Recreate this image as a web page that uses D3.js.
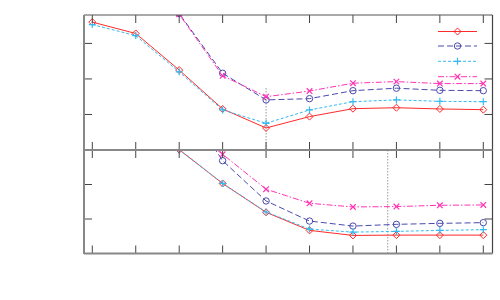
<!DOCTYPE html>
<html><head><meta charset="utf-8">
<script src="https://cdn.jsdelivr.net/npm/d3@7"></script>
<style>body{margin:0;background:#fff}svg{display:block}</style>
</head><body>
<script>
const xIndex = [0,1,2,3,4,5,6,7,8,9];
const seriesNames = ["s1","s2","s3","s4"];
// top panel values
const topRed     = [3.60,3.28,2.25,1.155,0.62,0.94,1.163,1.19,1.155,1.135];
const topBlue    = [5.0,4.6,3.84,2.16,1.41,1.445,1.67,1.74,1.68,1.67];
const topCyan    = [3.53,3.22,2.20,1.127,0.752,1.127,1.36,1.41,1.37,1.36];
const topMagenta = [5.1,4.7,3.82,2.09,1.50,1.66,1.88,1.925,1.87,1.87];
// bottom panel values
const botRed     = [4.4,3.9,3.01,2.03,1.194,0.67,0.524,0.533,0.533,0.533];
const botBlue    = [6.0,5.4,4.6,2.69,1.523,0.941,0.795,0.845,0.874,0.894];
const botCyan    = [4.4,3.9,3.01,2.03,1.203,0.708,0.62,0.641,0.67,0.69];
const botMagenta = [5.4,4.8,3.87,2.875,1.864,1.456,1.349,1.36,1.398,1.407];
const topTicks = [1,2,3];
const botTicks = [1,2];
const topMarkerX = 4;      // vertical guide in top panel
const botMarkerX = 6.8;    // vertical guide in bottom panel

const W=500,H=300;
const L=84,R=492.5,T1=15,B1=150,T2=150,B2=253.5;
const svg=d3.select("body").append("svg").attr("width",W).attr("height",H);
const x=d3.scaleLinear().domain([0,9]).range([92.3,483.3]);
const yTop=d3.scaleLinear().domain([0,3.8]).range([B1,T1]);
const yBot=d3.scaleLinear().domain([0,3]).range([B2,T2]);

const styles=[
 {c:"#ff2a2a",dash:null,m:"diamond"},
 {c:"#4a4aae",dash:"6,3",m:"circle"},
 {c:"#33bbf0",dash:"3,2",m:"plus"},
 {c:"#ff33b4",dash:"6,2,1.5,2",m:"cross"}
];
function marker(g,type,cx,cy,color){
  if(type==="diamond"){
    g.append("path").attr("d",`M${cx},${cy-3.5}L${cx+3.5},${cy}L${cx},${cy+3.5}L${cx-3.5},${cy}Z`).attr("fill","none").attr("stroke",color).attr("stroke-width",1);
  }else if(type==="circle"){
    g.append("circle").attr("cx",cx).attr("cy",cy).attr("r",3.2).attr("fill","none").attr("stroke",color).attr("stroke-width",1);
  }else if(type==="plus"){
    g.append("path").attr("d",`M${cx-3.5},${cy}H${cx+3.5}M${cx},${cy-3.5}V${cy+3.5}`).attr("stroke",color).attr("stroke-width",1.2);
  }else{
    g.append("path").attr("d",`M${cx-2.8},${cy-2.8}L${cx+2.8},${cy+2.8}M${cx-2.8},${cy+2.8}L${cx+2.8},${cy-2.8}`).attr("stroke",color).attr("stroke-width",1.2);
  }
}
const defs=svg.append("defs");
defs.append("clipPath").attr("id","c1").append("rect").attr("x",L).attr("y",T1).attr("width",R-L).attr("height",B1-T1);
defs.append("clipPath").attr("id","c2").append("rect").attr("x",L).attr("y",T2).attr("width",R-L).attr("height",B2-T2);

function panel(ys,data,clip,top,bot,ticks,guideX,guideTop){
  const g=svg.append("g");
  // guide
  g.append("line").attr("x1",x(guideX)).attr("x2",x(guideX)).attr("y1",guideTop).attr("y2",bot)
    .attr("stroke","#999").attr("stroke-width",1).attr("stroke-dasharray","1.5,1.5");
  const pg=g.append("g").attr("clip-path",`url(#${clip})`);
  data.forEach((vals,si)=>{
    const st=styles[si];
    const line=d3.line().x((d,i)=>x(xIndex[i])).y(d=>ys(d));
    pg.append("path").datum(vals).attr("d",line).attr("fill","none").attr("stroke",st.c)
      .attr("stroke-width",1).attr("stroke-dasharray",st.dash);
    vals.forEach((v,i)=>marker(pg,st.m,x(xIndex[i]),ys(v),st.c));
  });
  // ticks
  const tk=g.append("g").attr("stroke","#444").attr("stroke-width",1);
  xIndex.forEach(i=>{
    tk.append("line").attr("x1",x(i)).attr("x2",x(i)).attr("y1",top).attr("y2",top+8);
    tk.append("line").attr("x1",x(i)).attr("x2",x(i)).attr("y1",bot).attr("y2",bot-8);
  });
  ticks.forEach(t=>{
    tk.append("line").attr("x1",L).attr("x2",L+8).attr("y1",ys(t)).attr("y2",ys(t));
    tk.append("line").attr("x1",R).attr("x2",R-8).attr("y1",ys(t)).attr("y2",ys(t));
  });
  return g;
}
panel(yTop,[topRed,topBlue,topCyan,topMagenta],"c1",T1,B1,topTicks,topMarkerX,88);
panel(yBot,[botRed,botBlue,botCyan,botMagenta],"c2",T2,B2,botTicks,botMarkerX,T2);

// frame
const fr=svg.append("g").attr("fill","none");
fr.append("line").attr("x1",L).attr("x2",R).attr("y1",T1).attr("y2",T1).attr("stroke","#555").attr("stroke-width",1.2);
fr.append("line").attr("x1",R).attr("x2",R).attr("y1",T1).attr("y2",B2).attr("stroke","#444").attr("stroke-width",1.2);
fr.append("line").attr("x1",L).attr("x2",L).attr("y1",T1).attr("y2",B2+0.5).attr("stroke","#888").attr("stroke-width",2);
fr.append("line").attr("x1",L).attr("x2",R).attr("y1",B1).attr("y2",B1).attr("stroke","#888").attr("stroke-width",2);
fr.append("line").attr("x1",L).attr("x2",R).attr("y1",B2).attr("y2",B2).attr("stroke","#888").attr("stroke-width",2);

// legend
const lg=svg.append("g");
const legY=[31.5,46,61.3,76.7];
styles.forEach((st,i)=>{
  lg.append("line").attr("x1",438).attr("x2",477).attr("y1",legY[i]).attr("y2",legY[i])
    .attr("stroke",st.c).attr("stroke-width",1).attr("stroke-dasharray",st.dash).attr("data-name",seriesNames[i]);
  marker(lg,st.m,457.5,legY[i],st.c);
});
</script>
</body></html>
